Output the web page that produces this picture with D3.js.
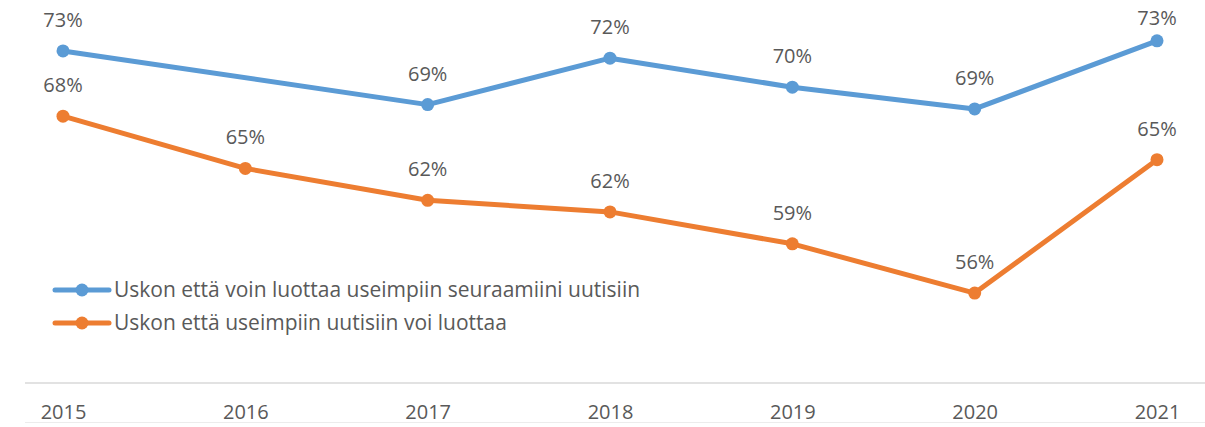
<!DOCTYPE html>
<html>
<head>
<meta charset="utf-8">
<script src="https://cdn.jsdelivr.net/npm/d3@7"></script>
<style>
  body { margin: 0; background: #fff; }
  text { font-family: "Open Sans", "Noto Sans", sans-serif; fill: #595959; }
</style>
</head>
<body>
<div id="chart"></div>
<script>
var years = [2015, 2016, 2017, 2018, 2019, 2020, 2021];
// blue series has no value for 2016
var own_news = [72.7, null, 69.0, 72.2, 70.2, 68.7, 73.4];
var most_news = [68.2, 64.6, 62.4, 61.6, 59.4, 56.0, 65.2];
var series_names = [
  'Uskon että voin luottaa useimpiin seuraamiini uutisiin',
  'Uskon että useimpiin uutisiin voi luottaa'
];
var series_colors = ['#5b9bd5', '#ed7d31'];

var width = 1205, height = 427;
var fs = '20px';

var svg = d3.select('#chart')
  .append('svg')
  .attr('width', width)
  .attr('height', height);

var x = d3.scalePoint()
  .domain(years)
  .range([63, 1157]);

var y = d3.scaleLinear()
  .domain([49.8, 75])
  .range([383, 17.6]);

// axis line
svg.append('line')
  .attr('x1', 25)
  .attr('x2', width)
  .attr('y1', y(49.8))
  .attr('y2', y(49.8))
  .attr('stroke', '#d9d9d9')
  .attr('stroke-width', 1.5);

// faint bottom border
svg.append('line')
  .attr('x1', 25)
  .attr('x2', width)
  .attr('y1', 422.5)
  .attr('y2', 422.5)
  .attr('stroke', '#ececec')
  .attr('stroke-width', 1);

var x_axis = svg.append('g')
  .attr('transform', 'translate(0,' + y(49.8) + ')')
  .call(d3.axisBottom(x).tickSize(0).tickPadding(22));
x_axis.select('.domain').remove();
x_axis.selectAll('text')
  .style('font-size', fs)
  .attr('fill', '#595959');

var fmt = function(v) { return Math.round(v) + '%'; };

function draw_series(values, color) {
  var pts = years.map(function(yr, i) {
    return {year: yr, value: values[i]};
  }).filter(function(d) { return d.value !== null; });

  var line = d3.line()
    .x(function(d) { return x(d.year); })
    .y(function(d) { return y(d.value); });

  svg.append('path')
    .datum(pts)
    .attr('d', line)
    .attr('fill', 'none')
    .attr('stroke', color)
    .attr('stroke-width', 5)
    .attr('stroke-linejoin', 'round')
    .attr('stroke-linecap', 'round');

  svg.selectAll(null)
    .data(pts)
    .enter()
    .append('circle')
    .attr('cx', function(d) { return x(d.year); })
    .attr('cy', function(d) { return y(d.value); })
    .attr('r', 6.5)
    .attr('fill', color);

  // labels sit above the dot, but are kept inside the top edge
  svg.selectAll(null)
    .data(pts)
    .enter()
    .append('text')
    .attr('x', function(d) { return x(d.year); })
    .attr('y', function(d) { return Math.max(y(d.value) - 24, 25); })
    .attr('text-anchor', 'middle')
    .style('font-size', fs)
    .text(function(d) { return fmt(d.value); });
}

draw_series(own_news, series_colors[0]);
draw_series(most_news, series_colors[1]);

// legend
var legend = svg.append('g')
  .attr('transform', 'translate(55,290)');

series_names.forEach(function(name, i) {
  var g = legend.append('g')
    .attr('transform', 'translate(0,' + (i * 33) + ')');
  g.append('line')
    .attr('x1', 0)
    .attr('x2', 54)
    .attr('stroke', series_colors[i])
    .attr('stroke-width', 5)
    .attr('stroke-linecap', 'round');
  g.append('circle')
    .attr('cx', 27)
    .attr('r', 6.5)
    .attr('fill', series_colors[i]);
  g.append('text')
    .attr('x', 59)
    .attr('dy', '0.35em')
    .style('font-size', '21px')
    .text(name);
});
</script>
</body>
</html>
